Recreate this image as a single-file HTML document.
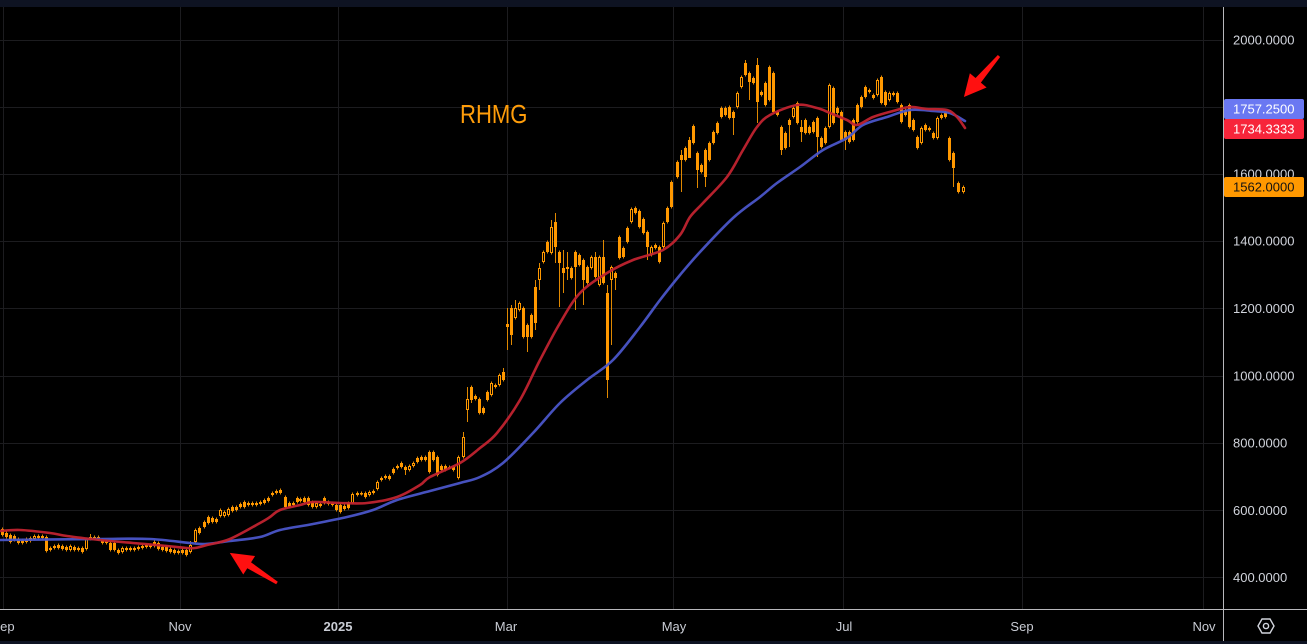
<!DOCTYPE html>
<html><head><meta charset="utf-8"><style>
html,body{margin:0;padding:0;background:#000;width:1307px;height:644px;overflow:hidden}
svg{display:block}
text{font-family:"Liberation Sans",sans-serif}
</style></head><body>
<svg id="c" width="1307" height="644" viewBox="0 0 1307 644" xmlns="http://www.w3.org/2000/svg">
<rect x="0" y="0" width="1307" height="644" fill="#000"/>
<rect x="0" y="0" width="1307" height="7" fill="#0e1322"/>
<rect x="0" y="641" width="1307" height="3" fill="#0e1322"/>
<g stroke="#1c1c1f" stroke-width="1">
<line x1="0" y1="40.5" x2="1223" y2="40.5"/>
<line x1="0" y1="107.5" x2="1223" y2="107.5"/>
<line x1="0" y1="174.5" x2="1223" y2="174.5"/>
<line x1="0" y1="241.5" x2="1223" y2="241.5"/>
<line x1="0" y1="308.5" x2="1223" y2="308.5"/>
<line x1="0" y1="376.5" x2="1223" y2="376.5"/>
<line x1="0" y1="443.5" x2="1223" y2="443.5"/>
<line x1="0" y1="510.5" x2="1223" y2="510.5"/>
<line x1="0" y1="577.5" x2="1223" y2="577.5"/>
<line x1="3.5" y1="7" x2="3.5" y2="609"/>
<line x1="180.5" y1="7" x2="180.5" y2="609"/>
<line x1="338.5" y1="7" x2="338.5" y2="609"/>
<line x1="507.5" y1="7" x2="507.5" y2="609"/>
<line x1="673.5" y1="7" x2="673.5" y2="609"/>
<line x1="843.5" y1="7" x2="843.5" y2="609"/>
<line x1="1022.5" y1="7" x2="1022.5" y2="609"/>
<line x1="1203.5" y1="7" x2="1203.5" y2="609"/>
</g>
<g id="candles"></g>
<path id="blue" fill="none" stroke="#4a55c8" stroke-width="2.6" stroke-linejoin="round" stroke-linecap="round" opacity="0.95" d=""/>
<path id="red" fill="none" stroke="#c0232f" stroke-width="2.6" stroke-linejoin="round" stroke-linecap="round" opacity="0.95" d=""/>
<text transform="translate(460,123) scale(0.85,1)" font-size="26" fill="#ff9d0a">RHMG</text>
<g fill="#ff1010">
<polygon transform="translate(277,583) rotate(212.5)" points="0,-1.5 33,-3.5 33,-11 56,0 33,11 33,3.5 0,1.5"/>
<polygon transform="translate(999,56) rotate(130.5)" points="0,-1.5 32,-3.5 32,-11 54,0 32,11 32,3.5 0,1.5"/>
</g>
<line x1="1223.5" y1="7" x2="1223.5" y2="641" stroke="#b8b8bc" stroke-width="1"/>
<line x1="0" y1="609.5" x2="1307" y2="609.5" stroke="#b8b8bc" stroke-width="1"/>
<g font-size="13" fill="#d1d4dc">
<text x="1233" y="44.5">2000.0000</text>
<text x="1233" y="111.5">1800.0000</text>
<text x="1233" y="178.5">1600.0000</text>
<text x="1233" y="245.5">1400.0000</text>
<text x="1233" y="313">1200.0000</text>
<text x="1233" y="380.5">1000.0000</text>
<text x="1233" y="447.5">800.0000</text>
<text x="1233" y="515">600.0000</text>
<text x="1233" y="582">400.0000</text>
</g>
<rect x="1224" y="99" width="80" height="20" rx="2" fill="#6a78f2"/>
<rect x="1224" y="119" width="80" height="20" rx="2" fill="#f7253a"/>
<rect x="1224" y="177" width="80" height="20" rx="2" fill="#ff9800"/>
<g font-size="13">
<text x="1233" y="113.5" fill="#fff">1757.2500</text>
<text x="1233" y="133.5" fill="#fff">1734.3333</text>
<text x="1233" y="191.5" fill="#131313">1562.0000</text>
</g>
<g font-size="13" fill="#c9ccd4" text-anchor="middle">
<text x="3" y="631">Sep</text>
<text x="180" y="631">Nov</text>
<text x="338" y="631" font-weight="bold">2025</text>
<text x="506" y="631">Mar</text>
<text x="674" y="631">May</text>
<text x="844" y="631">Jul</text>
<text x="1022" y="631">Sep</text>
<text x="1204" y="631">Nov</text>
</g>
<g fill="none" stroke="#d1d4dc" stroke-width="1.4">
<polygon points="1258,626 1262,619 1270,619 1274,626 1270,633 1262,633"/>
<circle cx="1266" cy="626" r="2.6"/>
</g>
</svg>
<script>
var D=[
[2,529,535],[6,533,537],[10,535,542],[14,536,540],[18,539,543],[22,540,543],[26,539,542],[30,538,541],[34,536,539,,,1],[38,536,538],[42,536,538],[46,537,551],[50,548,550],[54,546,548],[58,545,548],[62,546,549],[66,547,550],[70,546,550,,,1],[74,547,550],[78,548,550],[82,548,552],[86,539,549,,,1],[90,537,539,534],[94,537,539],[98,537,539],[102,540,543],[106,541,543],[110,543,550],[114,543,550],[118,550,553],[122,548,552,,,1],[126,548,550],[130,548,550],[134,548,550],[138,547,549],[142,546,548],[146,545,547],[150,545,547],[154,542,546],[158,543,549],[162,547,550],[166,547,551],[170,549,552],[174,550,553],[178,551,553],[182,550,553],[186,550,555],[190,545,552,541,,1],[195,530,542,,,1],[199,528,533],[204,522,527],[208,517,523],[212,518,522],[216,519,522],[220,510,516,,,1],[224,512,516,,,1],[228,509,515,,,1],[232,507,511],[236,507,510],[240,504,507],[244,502,507],[248,503,505],[252,503,505],[256,503,505],[260,502,504],[264,500,503],[268,498,501],[272,493,495],[276,491,493],[280,490,493],[285,497,507],[289,503,507],[293,503,505],[297,498,502],
[300,499,501],[304,498,502],[308,498,505],[312,502,507],[316,503,507,,,1],[320,504,506],[324,498,503],[328,502,504],[332,503,505],[336,505,510],[340,505,512],[344,506,509],[348,503,508],[352,494,503,,,1],[357,493,495],[361,493,494],[365,493,497],[369,492,495,,,1],[373,491,493],[377,482,489,,,1],[381,478,480],[385,476,478],[389,476,479],[393,469,473],[397,466,468],[401,463,467],[405,467,470,,475],[409,466,470,,,1],[413,463,466,,,1],[417,458,462],[421,457,460],[425,457,460],[429,452,472],[433,452,460],[437,457,475],[441,466,470],[445,466,470],[449,467,468],[453,467,470],[458,457,478,,,1],[463,437,457,432,,1],[467,399,410,387,422,1],[471,387,400,,403],[475,396,399],[479,399,413],
[483,408,413],[487,392,400],[491,383,395,,,1],[495,385,387],[499,375,385,,,1],[503,372,380,368],[507,324,327,308,350],[511,308,335,305,345],[515,308,318,300,,1],[519,303,310,,,1],[523,308,337],[527,325,337,,352],[531,315,337],[535,287,323,280,330],[539,268,280,263,290,1],[543,252,262,,,1],[547,242,252],[551,227,253,220,,1],[555,222,247,213,263],[559,252,263,,307],[563,268,273,250,293],[567,267,269,252,280],[571,268,278],[575,252,267,,310],[579,255,265],[583,260,280,,305],[587,267,283],[591,257,268,,,1],[595,257,277,252],[599,257,285,,,1],[603,257,283,240],[607,293,380,285,398],[611,267,280,,345,1],[615,273,278,,290],[619,237,258],[623,248,257],[627,228,242],[631,209,222,,,1],[635,208,213],[639,211,227],[643,219,233],[647,232,247,,260],[651,247,255,,,1],[655,245,248],[659,247,262],[663,223,247,,,1],[667,208,222],[671,182,207],
[677,162,177],[681,155,160,150,192],[685,148,160],[689,140,158,137,157],[693,126,143],[697,153,170,,188],[701,165,172],[705,150,177,,187],[709,143,160],[713,132,143],[717,123,133],[721,108,117],[725,108,115],[729,107,118],[733,112,118,,135],[737,93,107,,,1],[741,77,87,,,1],[745,63,75,60],[749,73,82,,100],[753,78,83],[757,65,102,58,123],[761,92,95],[765,83,105],[769,67,100],[773,73,112],[777,112,115],[781,127,150,,155],[785,133,148],[789,120,125,,147],[793,108,117,,,1],[797,103,123],[801,127,132,120,142],[805,120,133],[809,127,133],[813,122,132],[817,118,137,,157],[821,138,147],[825,128,143],[829,85,127,,,1],[833,88,123],[837,108,113],[841,112,140],[845,132,140,,150],[849,132,142],[853,120,140],[857,105,122],[861,97,107],[865,87,97],[869,90,92],[873,95,98],[877,80,95,,,1],[881,77,103],[885,92,105],[889,93,100,,,1],[893,93,95],[897,93,102],[901,105,122],[905,110,115],[909,105,127],[913,120,130],[917,137,148],[921,128,143,,,1],[925,125,130],[929,128,130],[933,133,138],[937,118,138,,,1],[941,115,118],[945,112,117],[949,138,160],[953,153,168,,187],[958,183,192],[963,187,192,,,1]
];
var s='';
for(var i=0;i<D.length;i++){var d=D[i],x=d[0],t=d[1],b=d[2],wt=d[3]||t-1.5,wb=d[4]||b+1.5,h=d[5];
s+='<line x1="'+(x+0.5)+'" y1="'+wt+'" x2="'+(x+0.5)+'" y2="'+wb+'" stroke="#e08800" stroke-width="1"/>';
if(h){s+='<rect x="'+(x-0.5)+'" y="'+(t+0.5)+'" width="2" height="'+Math.max(b-t-1,1)+'" fill="#000" stroke="#ff9800" stroke-width="1"/>';}
else{s+='<rect x="'+(x-1)+'" y="'+t+'" width="3" height="'+Math.max(b-t,1.5)+'" fill="#ff9800"/>';}}
document.getElementById('candles').innerHTML=s;
function smooth(str){var a=str.trim().split(/\s+/).map(function(p){return p.split(',').map(Number);});
var d='M'+a[0][0]+','+a[0][1];
for(var i=0;i<a.length-1;i++){var p0=a[i-1]||a[i],p1=a[i],p2=a[i+1],p3=a[i+2]||a[i+1];
var c1x=p1[0]+(p2[0]-p0[0])/6,c1y=p1[1]+(p2[1]-p0[1])/6,c2x=p2[0]-(p3[0]-p1[0])/6,c2y=p2[1]-(p3[1]-p1[1])/6;
d+=' C'+c1x.toFixed(1)+','+c1y.toFixed(1)+' '+c2x.toFixed(1)+','+c2y.toFixed(1)+' '+p2[0]+','+p2[1];}
return d;}
document.getElementById('blue').setAttribute('d',smooth("0,540 100,539 150,539 190,543 205,544 230,541 260,537 280,530 313,524 347,517 373,510 397,500 430,491 460,483 480,477 503,463 533,433 560,403 587,380 613,360 640,327 660,300 680,275 700,252 733,218 760,197 777,183 800,167 823,150 847,138 863,125 887,117 910,110 933,111 950,113 965,121"));
document.getElementById('red').setAttribute('d',smooth("0,531 20,530 50,533 67,536 100,540 133,543 167,546 187,548 195,548 207,545 230,539 260,523 270,517 280,510 300,505 313,502 340,503 367,503 397,497 420,485 430,477 460,463 480,448 497,433 520,400 540,360 560,323 580,293 607,273 633,260 663,250 680,235 690,217 703,203 727,177 743,150 757,127 770,115 797,105 817,108 830,113 847,120 857,125 873,117 893,111 910,107 927,109 947,110 957,117 965,128"));
</script>
</body></html>
